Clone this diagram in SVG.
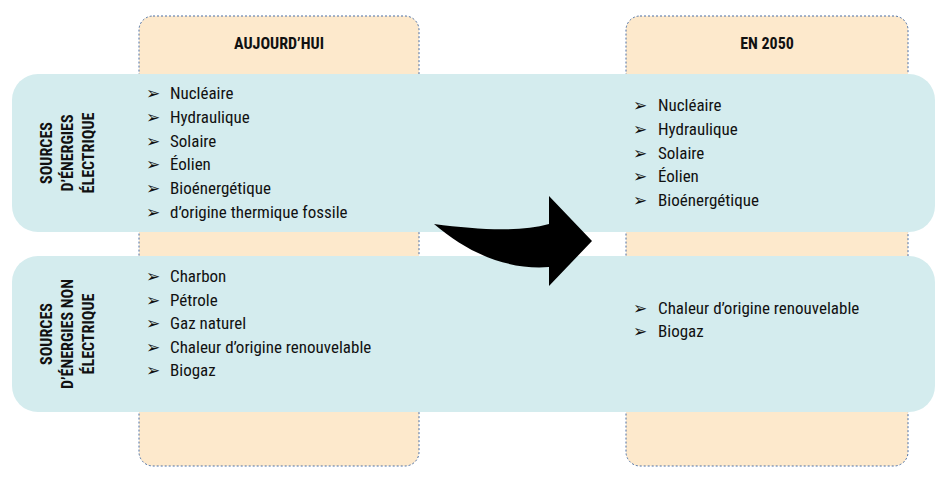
<svg xmlns="http://www.w3.org/2000/svg" width="945" height="477" viewBox="0 0 945 477">
<style>
.col{fill:#fde9cc;stroke:#4a6fa5;stroke-width:1;stroke-dasharray:2 2}
.band{fill:#d4ecee}
text{font-family:"Liberation Sans Narrow","Roboto Condensed","Liberation Sans",sans-serif;fill:#111}
.it{font-size:17px}
.b{font-size:17px}
.h{font-size:16px;font-weight:bold}
</style>
<rect width="945" height="477" fill="#fff"/>
<g id="col-today"><rect class="col" x="139" y="16" width="280" height="450" rx="14"/><text class="h" x="279" y="49" text-anchor="middle">AUJOURD’HUI</text></g>
<g id="col-2050"><rect class="col" x="626" y="16" width="282" height="450" rx="14"/><text class="h" x="767" y="49" text-anchor="middle">EN 2050</text></g>
<g id="band-elec"><rect class="band" x="12" y="74" width="923" height="158" rx="26"/>
<text class="h" text-anchor="middle" transform="translate(52,153) rotate(-90)">SOURCES</text>
<text class="h" text-anchor="middle" transform="translate(73,153) rotate(-90)">D’ÉNERGIES</text>
<text class="h" text-anchor="middle" transform="translate(94,153) rotate(-90)">ÉLECTRIQUE</text>
<g class="it"><text x="146" y="99">➢</text><text x="170" y="99">Nucléaire</text>
<text x="146" y="123">➢</text><text x="170" y="123">Hydraulique</text>
<text x="146" y="147">➢</text><text x="170" y="147">Solaire</text>
<text x="146" y="170">➢</text><text x="170" y="170">Éolien</text>
<text x="146" y="194">➢</text><text x="170" y="194">Bioénergétique</text>
<text x="146" y="218">➢</text><text x="170" y="218">d’origine thermique fossile</text>
<text x="633" y="111">➢</text><text x="658" y="111">Nucléaire</text>
<text x="633" y="135">➢</text><text x="658" y="135">Hydraulique</text>
<text x="633" y="159">➢</text><text x="658" y="159">Solaire</text>
<text x="633" y="182">➢</text><text x="658" y="182">Éolien</text>
<text x="633" y="206">➢</text><text x="658" y="206">Bioénergétique</text></g></g>
<g id="band-nonelec"><rect class="band" x="12" y="256" width="923" height="156" rx="26"/>
<text class="h" text-anchor="middle" transform="translate(52,334) rotate(-90)">SOURCES</text>
<text class="h" text-anchor="middle" transform="translate(73,334) rotate(-90)">D’ÉNERGIES NON</text>
<text class="h" text-anchor="middle" transform="translate(94,334) rotate(-90)">ÉLECTRIQUE</text>
<g class="it"><text x="146" y="282">➢</text><text x="170" y="282">Charbon</text>
<text x="146" y="306">➢</text><text x="170" y="306">Pétrole</text>
<text x="146" y="329">➢</text><text x="170" y="329">Gaz naturel</text>
<text x="146" y="353">➢</text><text x="170" y="353">Chaleur d’origine renouvelable</text>
<text x="146" y="376">➢</text><text x="170" y="376">Biogaz</text>
<text x="633" y="314">➢</text><text x="658" y="314">Chaleur d’origine renouvelable</text>
<text x="633" y="337">➢</text><text x="658" y="337">Biogaz</text></g></g>
<g id="connectors"><path d="M434,224 C480,230 520,232 549,224 L549,196 L592,241 L549,286 L549,267 C510,270 470,255 434,224 Z" fill="#000"/></g>
</svg>
